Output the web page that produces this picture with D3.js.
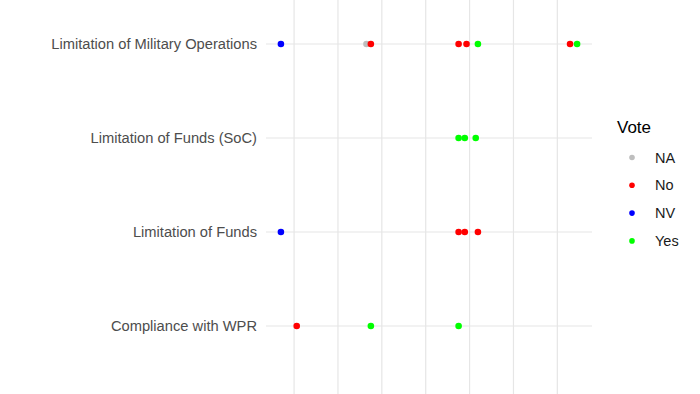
<!DOCTYPE html>
<meta charset="utf-8">
<style>
body { margin: 0; background: #fff; }
text { font-family: "Liberation Sans", Arial, sans-serif; }
</style>
<body>
<script src="https://cdn.jsdelivr.net/npm/d3@7"></script>
<script>

// categories, top to bottom
var measures = ["Limitation of Military Operations", "Limitation of Funds (SoC)", "Limitation of Funds", "Compliance with WPR"];
var voteLevels = ["NA", "No", "NV", "Yes"];
var voteColors = ["#bebebe", "#ff0000", "#0000ff", "#00ff00"];

// one array per measure: [position, vote]
var militaryOps = [[-0.30, "NV"], [1.65, "NA"], [1.75, "No"], [3.75, "No"], [3.93, "No"], [4.19, "Yes"], [6.29, "No"], [6.45, "Yes"]];
var fundsSoC = [[3.75, "Yes"], [3.89, "Yes"], [4.14, "Yes"]];
var funds = [[-0.30, "NV"], [3.75, "No"], [3.89, "No"], [4.19, "No"]];
var compliance = [[0.06, "No"], [1.75, "Yes"], [3.75, "Yes"]];

var gridBreaks = [0, 1, 2, 3, 4, 5, 6];

var points = [];
[militaryOps, fundsSoC, funds, compliance].forEach(function(arr, i) {
  arr.forEach(function(d) { points.push({measure: measures[i], x: d[0], vote: d[1]}); });
});

var width = 700, height = 394;
var panel = {left: 266, right: 592, top: 44, bottom: 326};

var svg = d3.select("body").append("svg")
    .attr("width", width)
    .attr("height", height);

var x = d3.scaleLinear()
    .domain([-0.64, 6.79])
    .range([panel.left, panel.right]);

var y = d3.scalePoint()
    .domain(measures)
    .range([panel.top, panel.bottom]);

var color = d3.scaleOrdinal().domain(voteLevels).range(voteColors);

// grid
svg.append("g").selectAll("line")
    .data(gridBreaks)
  .enter().append("line")
    .attr("x1", function(d) { return x(d); })
    .attr("x2", function(d) { return x(d); })
    .attr("y1", 0)
    .attr("y2", height)
    .attr("stroke", "#e6e6e6")
    .attr("stroke-width", 1.2);

svg.append("g").selectAll("line")
    .data(measures)
  .enter().append("line")
    .attr("x1", panel.left)
    .attr("x2", panel.right)
    .attr("y1", function(d) { return y(d); })
    .attr("y2", function(d) { return y(d); })
    .attr("stroke", "#e6e6e6")
    .attr("stroke-width", 1.2);

// y axis labels
var yAxis = d3.axisLeft(y).tickSize(0).tickPadding(9);
var ya = svg.append("g")
    .attr("transform", "translate(" + panel.left + ",0)")
    .call(yAxis);
ya.select(".domain").remove();
ya.selectAll("text")
    .style("font-size", "14.7px")
    .style("font-family", "'Liberation Sans', Arial, sans-serif")
    .attr("fill", "#4d4d4d");

// points
svg.append("g").selectAll("circle")
    .data(points)
  .enter().append("circle")
    .attr("cx", function(d) { return x(d.x); })
    .attr("cy", function(d) { return y(d.measure); })
    .attr("r", 3.3)
    .attr("fill", function(d) { return color(d.vote); });

// legend
var legend = svg.append("g").attr("transform", "translate(617,0)");
legend.append("text")
    .attr("x", 0)
    .attr("y", 133)
    .style("font-size", "17px")
    .attr("fill", "#000")
    .text("Vote");

var items = legend.selectAll("g.item")
    .data(voteLevels)
  .enter().append("g")
    .attr("class", "item")
    .attr("transform", function(d, i) { return "translate(0," + (157.5 + i * 27.8) + ")"; });
items.append("circle")
    .attr("cx", 15)
    .attr("cy", 0)
    .attr("r", 2.8)
    .attr("fill", function(d) { return color(d); });
items.append("text")
    .attr("x", 38)
    .attr("y", 5)
    .style("font-size", "14.5px")
    .attr("fill", "#1a1a1a")
    .text(function(d) { return d; });

</script>
